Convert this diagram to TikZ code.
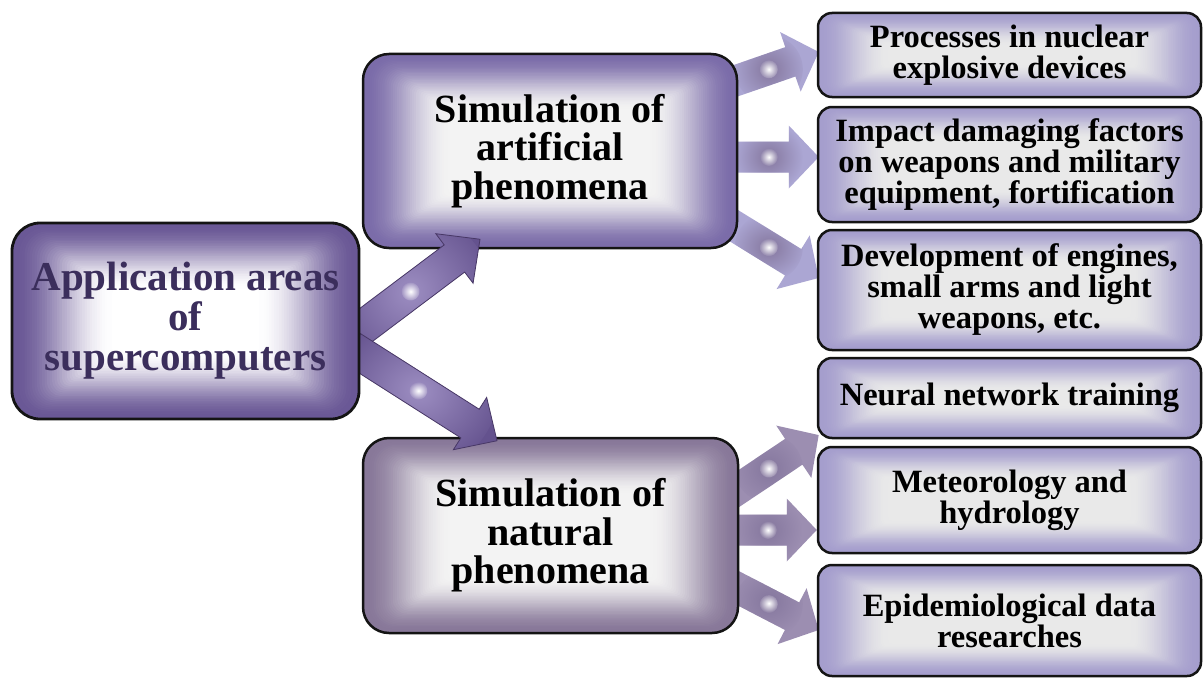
\documentclass[tikz,border=0pt]{standalone}
\usepackage{fontspec}
\setmainfont{Liberation Serif}
\usetikzlibrary{calc,fadings}

\pgfdeclarelayer{back}
\pgfdeclarelayer{front}
\pgfsetlayers{back,main,front}

\definecolor{appEdge}{HTML}{6A5896}
\definecolor{appText}{HTML}{3B2E5C}
\definecolor{artEdge}{HTML}{7B6CA9}
\definecolor{natEdge}{HTML}{887899}
\definecolor{midCore}{HTML}{F3F3F3}
\definecolor{leafEdge}{HTML}{A59ECD}
\definecolor{leafCore}{HTML}{E9E9E9}
\definecolor{bigArrow}{HTML}{64528E}
\definecolor{bigArrowLine}{HTML}{483866}
\definecolor{bigArrowGlow}{HTML}{9D8EC2}
\definecolor{artArrow}{HTML}{ABA6D3}
\definecolor{natArrow}{HTML}{9C8EB1}
\definecolor{smudge}{HTML}{85779E}
\definecolor{boxLine}{HTML}{141414}

\tikzfading[name=glowfade, inner color=transparent!0, outer color=transparent!100]

% Rectangular glow: nested rounded rectangles blending from the edge colour
% (#1) to the core colour (#2); #3/#4 = depth of the blend in x/y, #5 = radius
\newcommand\boxglow[5]{%
  \fill[#1] (path picture bounding box.south west) rectangle (path picture bounding box.north east);
  \foreach \k in {1,...,40}{%
    \pgfmathsetmacro\tv{\k/40}%
    \pgfmathtruncatemacro\mixv{100*\tv*\tv*(3-2*\tv)}%
    \pgfmathsetmacro\dxv{#3*\tv}%
    \pgfmathsetmacro\dyv{#4*\tv}%
    \pgfmathsetmacro\rv{max(#5-0.4*\dxv,4)}%
    \fill[#2!\mixv!#1, rounded corners=\rv pt]
      ([xshift=\dxv pt, yshift=-\dyv pt]path picture bounding box.north west)
      rectangle ([xshift=-\dxv pt, yshift=\dyv pt]path picture bounding box.south east);
  }}

% Block arrow from #3 to #4: #1 fill colour, #2 outline options,
% #5 shaft width, #6 head width, #7 head length, #8 glow colour, #9 glow radius
\newcommand\blockarrow[9]{%
  \path let \p1=(#3), \p2=(#4) in \pgfextra{%
    \pgfmathsetmacro\baAng{atan2(\y2-\y1,\x2-\x1)}%
    \pgfmathsetmacro\baLen{veclen(\x2-\x1,\y2-\y1)}%
    \global\let\baAngG\baAng \global\let\baLenG\baLen};
  \begin{scope}[shift={(#3)}, rotate=\baAngG]
    \pgfmathsetmacro\baNeck{\baLenG-#7}%
    \pgfmathsetmacro\baS{#5/2}%
    \pgfmathsetmacro\baH{#6/2}%
    \pgfmathsetmacro\baGlow{0.46*\baLenG}%
    \def\baOutline{(0pt,\baS pt) -- (\baNeck pt,\baS pt) -- (\baNeck pt,\baH pt)
      -- (\baLenG pt,0pt) -- (\baNeck pt,-\baH pt) -- (\baNeck pt,-\baS pt)
      -- (0pt,-\baS pt) -- cycle}%
    \fill[#1] \baOutline;
    \begin{scope}
      \clip \baOutline;
      \fill[#8, path fading=glowfade] (\baGlow pt,0pt) circle (#9 pt);
      \fill[white, path fading=glowfade] (\baGlow pt,0pt) circle (9pt);
    \end{scope}
    \path[#2] \baOutline;
  \end{scope}}

\tikzset{
  panel/.style={draw=boxLine, line width=2.5pt, inner sep=0pt, align=center},
  bigfont/.style={font={\bfseries\fontsize{41}{40}\selectfont}},
  midfont/.style={font={\bfseries\fontsize{40}{38.5}\selectfont}},
  leaffont/.style={font={\bfseries\fontsize{32.5}{31}\selectfont}},
  leaf/.style={panel, leaffont, rounded corners=14pt, minimum width=383pt,
    path picture={\boxglow{leafEdge}{leafCore}{70}{32}{14}}},
}

\begin{document}
\begin{tikzpicture}[x=1pt,y=-1pt]
\useasboundingbox (0,0) rectangle (1204,677);

\begin{pgfonlayer}{back}
  \fill[white] (0,0) rectangle (1204,677);
\end{pgfonlayer}

% root box
\begin{pgfonlayer}{front}
  \node[panel, bigfont, text=appText, line width=2.8pt, rounded corners=28pt,
    minimum width=347pt, minimum height=196pt,
    path picture={\boxglow{appEdge}{white}{100}{66}{28}}]
    (app) at (185.5,321) {Application areas\\of\\supercomputers};
\end{pgfonlayer}

% second level
\node[panel, midfont, rounded corners=26pt, minimum width=374pt, minimum height=194pt,
  path picture={\boxglow{artEdge}{midCore}{85}{55}{26}}]
  (art) at (550,151) {Simulation of\\artificial\\phenomena};
\node[panel, midfont, rounded corners=26pt, minimum width=375pt, minimum height=195pt,
  path picture={\boxglow{natEdge}{midCore}{85}{55}{26}}]
  (nat) at (550.5,535.5) {Simulation of\\natural\\phenomena};

% leaves
\node[leaf, minimum height=84pt]  (r1) at (1009.5,55)    {Processes in nuclear\\explosive devices};
\node[leaf, minimum height=115pt] (r2) at (1009.5,164.5) {Impact damaging factors\\on weapons and military\\equipment, fortification};
\node[leaf, minimum height=120pt] (r3) at (1009.5,290)   {Development of engines,\\small arms and light\\weapons, etc.};
\node[leaf, minimum height=80pt]  (r4) at (1009.5,398)   {Neural network training};
\node[leaf, minimum height=106pt] (r5) at (1009.5,500)   {Meteorology and\\hydrology};
\node[leaf, minimum height=111pt] (r6) at (1009.5,620.5) {Epidemiological data\\researches};

% main arrows
\blockarrow{bigArrow}{draw=bigArrowLine, line width=0.8pt}
  {$(app.east)+(-9,15)$}{$(art.south)+(-70,-10)$}{34}{62}{32}{bigArrowGlow}{80}
\blockarrow{bigArrow}{draw=bigArrowLine, line width=0.8pt}
  {$(app.east)+(-9,27)$}{$(nat.north)+(-53.5,4)$}{34}{62}{32}{bigArrowGlow}{80}

% branch arrows
\begin{pgfonlayer}{back}
  \blockarrow{artArrow}{draw=none}{$(art.east)+(-12,-67)$}{$(r1.west)+(2,-3)$}{31}{63}{30}{smudge}{34}
  \blockarrow{artArrow}{draw=none}{$(art.east)+(-12,6)$}{$(r2.west)+(2,-7.5)$}{31}{63}{30}{smudge}{34}
  \blockarrow{artArrow}{draw=none}{$(art.east)+(-12,70)$}{$(r3.west)+(2,-12)$}{31}{63}{30}{smudge}{34}
  \blockarrow{natArrow}{draw=none}{$(nat.east)+(-13,-38.5)$}{$(r4.west)+(2,37)$}{31}{63}{30}{smudge}{34}
  \blockarrow{natArrow}{draw=none}{$(nat.east)+(-13,-5.5)$}{$(r5.west)+(0,30)$}{31}{63}{30}{smudge}{34}
  \blockarrow{natArrow}{draw=none}{$(nat.east)+(-13,46.5)$}{$(r6.west)+(2,9.5)$}{31}{63}{30}{smudge}{34}
\end{pgfonlayer}
\end{tikzpicture}
\end{document}
